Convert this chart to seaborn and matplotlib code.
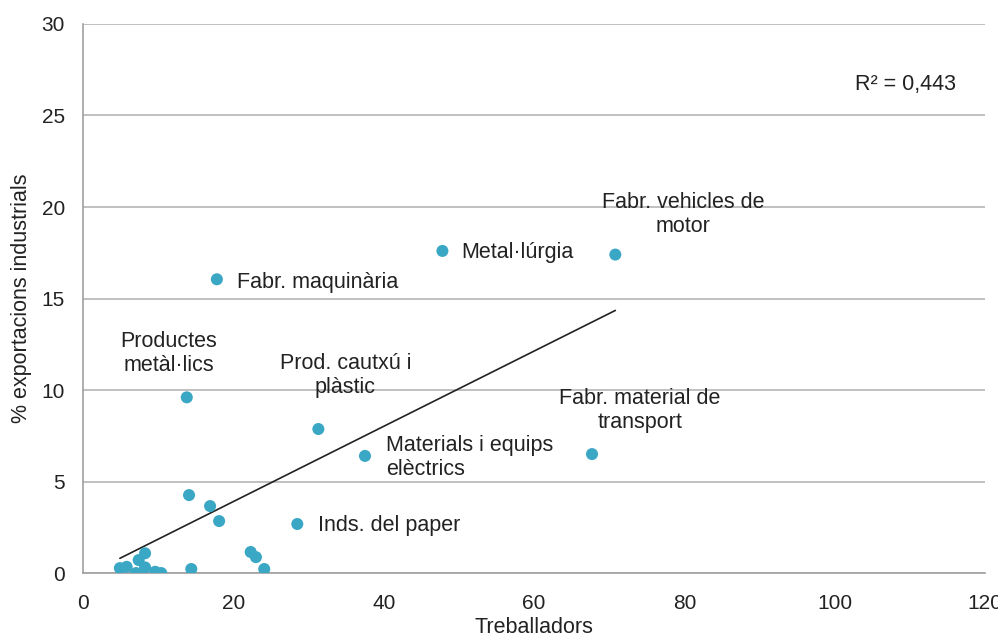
import numpy as np
import pandas as pd
import matplotlib
matplotlib.use("Agg")
import matplotlib.pyplot as plt
import seaborn as sns

# Sector data: workers vs % of industrial exports
treballadors = [70.8, 47.8, 17.8, 13.8, 31.3, 37.5, 67.7, 28.5,
                14.1, 16.9, 18.1, 22.3, 23.0, 24.1, 14.4,
                4.9, 5.8, 7.05, 7.4, 8.25, 8.25, 9.6, 10.4]
exportacions = [17.4, 17.6, 16.05, 9.6, 7.87, 6.4, 6.5, 2.68,
                4.26, 3.66, 2.84, 1.15, 0.87, 0.22, 0.22,
                0.27, 0.34, 0.0, 0.71, 1.08, 0.31, 0.07, 0.0]

labels = [
    ("Fabr. vehicles de\nmotor", 79.8, 19.6, "center"),
    ("Metal·lúrgia", 50.3, 17.5, "left"),
    ("Fabr. maquinària", 20.5, 15.9, "left"),
    ("Productes\nmetàl·lics", 11.4, 12.0, "center"),
    ("Prod. cautxú i\nplàstic", 34.9, 10.8, "center"),
    ("Fabr. material de\ntransport", 74.1, 8.9, "center"),
    ("Materials i equips\nelèctrics", 40.3, 6.3, "left"),
    ("Inds. del paper", 31.3, 2.6, "left"),
]

df = pd.DataFrame({"Treballadors": treballadors, "Export": exportacions})

sns.set_style("white")
plt.rcParams["font.family"] = ["Liberation Sans", "DejaVu Sans"]
text_color = "#222222"
fs = 15.5

fig = plt.figure(figsize=(9.98, 6.41), dpi=100)
ax = fig.add_axes([0.0832, 0.106, 0.904, 0.8566])

sns.scatterplot(data=df, x="Treballadors", y="Export", color="#3aa7c4",
                s=75, edgecolor="none", ax=ax, zorder=3)
sns.regplot(data=df, x="Treballadors", y="Export", scatter=False, ci=None,
            truncate=True, color="#222222", line_kws={"linewidth": 1.2}, ax=ax)

for txt, x, y, ha in labels:
    ax.text(x, y, txt, ha=ha, va="center", fontsize=fs, color=text_color,
            multialignment="left" if ha == "left" else "center",
            linespacing=1.2)

ax.text(102.7, 26.7, "R² = 0,443", ha="left", va="center", fontsize=fs,
        color=text_color)

ax.set_xlim(0, 120)
ax.set_ylim(0, 30)
ax.set_xticks(range(0, 121, 20))
ax.set_yticks(range(0, 31, 5))
ax.yaxis.grid(True, color="#b5b5b5", linewidth=1.2)
ax.set_axisbelow(True)
for s in ["top", "right"]:
    ax.spines[s].set_visible(False)
for s in ["left", "bottom"]:
    ax.spines[s].set_color("#a0a0a0")
    ax.spines[s].set_linewidth(1.2)
ax.tick_params(axis="both", which="both", length=5, width=1.2, color="#a0a0a0",
               labelsize=15, labelcolor=text_color, direction="out")
ax.tick_params(axis="x", pad=10)
ax.tick_params(axis="y", pad=8)
ax.set_xlabel("Treballadors", fontsize=fs, color=text_color, labelpad=3)
ax.set_ylabel("% exportacions industrials", fontsize=fs, color=text_color,
              labelpad=7)

fig.savefig("out.png", dpi=100)
